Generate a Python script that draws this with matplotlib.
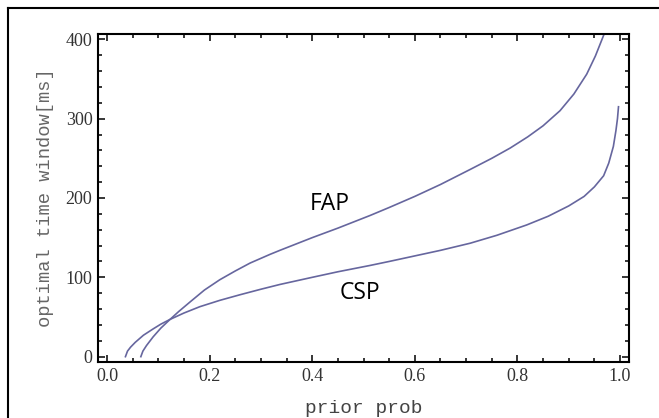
import matplotlib
matplotlib.use("Agg")
import matplotlib.pyplot as plt
from matplotlib.lines import Line2D
from matplotlib.ticker import MultipleLocator

# values
fap_x = [0.066, 0.07, 0.077, 0.09, 0.105, 0.123, 0.14, 0.162, 0.19, 0.22, 0.25, 0.279,
         0.318, 0.337, 0.4, 0.45, 0.513, 0.55, 0.6, 0.65, 0.708, 0.75, 0.786, 0.82,
         0.85, 0.883, 0.91, 0.935, 0.952, 0.968]
fap_y = [0, 7, 14, 25, 36, 47, 57, 69, 84, 97, 108, 118,
         129, 134, 150, 162, 178, 188, 202, 217, 236, 250, 263, 277,
         291, 310, 331, 356, 379, 405]

csp_x = [0.036, 0.04, 0.046, 0.055, 0.071, 0.09, 0.105, 0.123, 0.15, 0.181, 0.22, 0.259,
         0.3, 0.337, 0.4, 0.45, 0.513, 0.55, 0.6, 0.65, 0.708, 0.76, 0.818, 0.86,
         0.9, 0.93, 0.95, 0.968, 0.978, 0.987, 0.992, 0.995, 0.997]
csp_y = [0, 7, 12, 18, 27, 35, 41, 47, 55, 63, 71, 78,
         85, 91, 100, 107, 115, 120, 127, 134, 143, 153, 166, 177,
         190, 202, 214, 228, 244, 265, 285, 300, 315]

x_ticks = [0.0, 0.2, 0.4, 0.6, 0.8, 1.0]
y_ticks = [0, 100, 200, 300, 400]

line_col = "#66669e"

fig = plt.figure(figsize=(6.59, 4.18), dpi=100)
ax = fig.add_axes([0.1487, 0.134, 0.9545 - 0.1487, 0.9187 - 0.134])

ax.plot(fap_x, fap_y, color=line_col, lw=1.2)
ax.plot(csp_x, csp_y, color=line_col, lw=1.2)

ax.set_xlim(-0.0175, 1.0175)
ax.set_ylim(-6.7, 406.7)

ax.set_xticks(x_ticks)
ax.set_xticklabels(["%.1f" % v for v in x_ticks])
ax.set_yticks(y_ticks)
ax.xaxis.set_minor_locator(MultipleLocator(0.05))
ax.yaxis.set_minor_locator(MultipleLocator(20))
ax.tick_params(which="both", direction="in", top=True, right=True, colors="black",
               labelcolor="#333333", labelsize=13, width=1.1)
ax.tick_params(which="major", length=5, pad=4)
ax.tick_params(which="minor", length=3)
for lab in ax.get_xticklabels() + ax.get_yticklabels():
    lab.set_family("Liberation Serif")
for sp in ax.spines.values():
    sp.set_linewidth(1.5)

ax.set_xlabel("prior prob", family="Liberation Mono", fontsize=14, color="#444444", labelpad=11)
ax.set_ylabel("optimal time window[ms]", family="Liberation Mono", fontsize=13.5,
              color="#666666", labelpad=8)

ax.text(0.435, 192, "FAP", family="Open Sans", fontsize=16.5, ha="center", va="center")
ax.text(0.493, 80, "CSP", family="Open Sans", fontsize=16.5, ha="center", va="center")

# partial outer frame (left and top edges)
fig.add_artist(Line2D([8 / 659, 8 / 659], [0, 1 - 8 / 418], transform=fig.transFigure,
                      color="black", lw=1.5))
fig.add_artist(Line2D([8 / 659, 1], [1 - 8 / 418, 1 - 8 / 418], transform=fig.transFigure,
                      color="black", lw=1.5))

fig.savefig("out.png", dpi=100)
